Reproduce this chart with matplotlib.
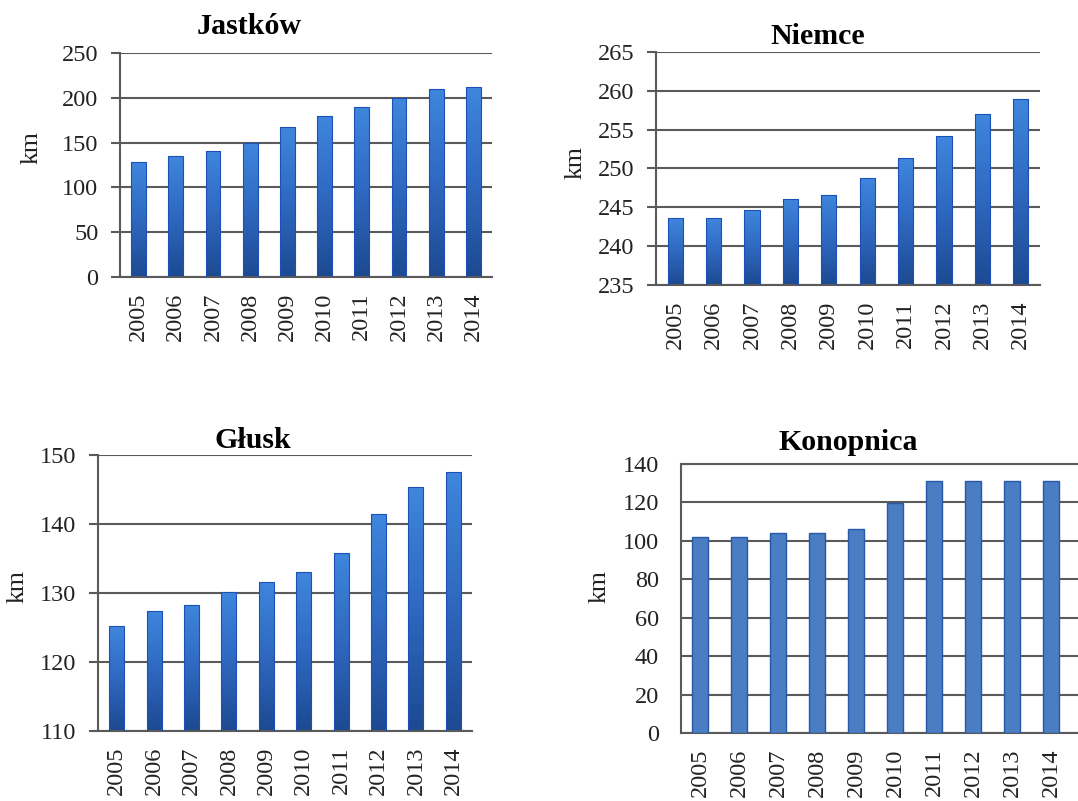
import numpy as np
import matplotlib.pyplot as plt
from matplotlib.colors import LinearSegmentedColormap

plt.rcParams['font.family'] = ['Liberation Serif', 'DejaVu Serif']

# ------------------------------------------------------------
# dane (km dróg)
# ------------------------------------------------------------
lata = ['2005', '2006', '2007', '2008', '2009', '2010', '2011', '2012', '2013', '2014']
jastkow = [128, 135, 141, 150, 167, 180, 190, 200, 210, 212]
niemce = [243.6, 243.6, 244.6, 246.1, 246.6, 248.8, 251.3, 254.2, 257.0, 259.0]
glusk = [125.2, 127.4, 128.3, 130.2, 131.6, 133.0, 135.8, 141.4, 145.4, 147.6]
konopnica = [102, 102, 104, 104, 106, 119.5, 131, 131, 131, 131]

W, H = 1078, 801
fig = plt.figure(figsize=(W / 100, H / 100), dpi=100)

grad = LinearSegmentedColormap.from_list('niebieski', ['#1d4a92', '#2f68c0', '#3f86dc'])
GRID = '#5a5a5a'
FS = 17.5


def px(left, top, right, bottom):
    return [left / W, (H - bottom) / H, (right - left) / W, (bottom - top) / H]


def wykres(pos, wartosci, ylim, yticks, xlim=(-0.5, 9.5), gradient=True, ramka=False,
           tick_len=6.5, ypad=9):
    ax = fig.add_axes(pos)
    x = np.arange(len(lata))
    if gradient:
        bars = ax.bar(x, wartosci, width=0.4, color='#2f68c0', edgecolor='#1a50b8',
                      linewidth=0.8, zorder=3)
        g = np.linspace(0, 1, 64).reshape(-1, 1)
        for b in bars:
            b.set_facecolor('none')
            im = ax.imshow(g, cmap=grad, aspect='auto', origin='lower',
                           extent=[b.get_x(), b.get_x() + b.get_width(), ylim[0], b.get_height()],
                           zorder=2)
            im.set_clip_path(b)
    else:
        ax.bar(x, wartosci, width=0.41, color='#4a7dc2', edgecolor='#2659a8',
               linewidth=1.0, zorder=3)

    ax.set_xlim(*xlim)
    ax.set_ylim(*ylim)
    ax.set_yticks(yticks)
    ax.set_xticks(x)
    ax.set_xticklabels(lata, rotation=90)
    ax.yaxis.grid(True, color=GRID, linewidth=1.5, zorder=1)
    ax.set_axisbelow(True)

    for s in ['right', 'top']:
        ax.spines[s].set_visible(False)
    for s in ['left', 'bottom']:
        ax.spines[s].set_color(GRID)
        ax.spines[s].set_linewidth(1.5)
    if ramka:
        ax.spines['top'].set_visible(True)
        ax.spines['top'].set_color(GRID)
        ax.spines['top'].set_linewidth(1.5)

    ax.tick_params(axis='y', length=tick_len, width=1.5, color=GRID, pad=ypad,
                   labelsize=FS, labelcolor='#222222')
    ax.tick_params(axis='x', length=0, pad=11, labelsize=FS, labelcolor='#222222')
    return ax


ax1 = wykres(px(120, 53, 492, 277), jastkow, (0, 250), range(0, 251, 50))
ax2 = wykres(px(656, 52, 1040, 285), niemce, (235, 265), range(235, 266, 5))
ax3 = wykres(px(98, 455, 472, 731), glusk, (110, 150), range(110, 151, 10))
ax4 = wykres(px(681, 464, 1086, 733), konopnica, (0, 140), range(0, 141, 20),
             xlim=(-0.5, 9.9), gradient=False, ramka=True, tick_len=0, ypad=16)

# tytuły i opisy osi
tytuly = [('Jastków', 249, 27), ('Niemce', 818, 36), ('Głusk', 253, 440), ('Konopnica', 848, 442)]
for t, x, y in tytuly:
    fig.text(x / W, 1 - y / H, t, fontsize=21.5, fontweight='bold', ha='center', va='center')

opisy = [(32, 148), (575, 163), (18, 587), (600, 587)]
for x, y in opisy:
    fig.text(x / W, 1 - y / H, 'km', fontsize=18.5, rotation=90, ha='center', va='center',
             color='#222222')

fig.savefig('out.png', dpi=100)
